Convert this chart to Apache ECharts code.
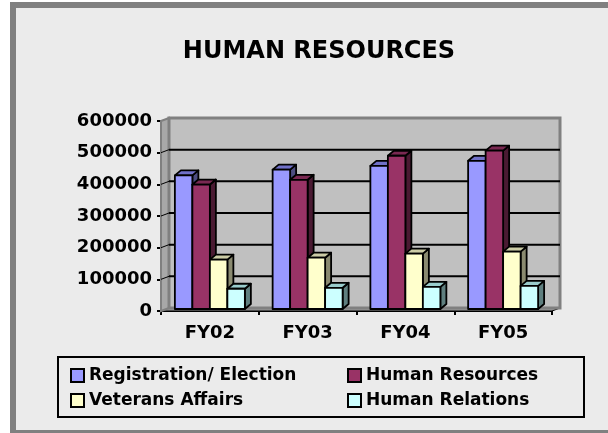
<!DOCTYPE html>
<html>
<head>
<meta charset="utf-8">
<script src="https://cdn.jsdelivr.net/npm/echarts@6/dist/echarts.min.js"></script>
<style>html,body{margin:0;padding:0;background:#fff}#c{width:608px;height:433px}</style>
</head>
<body>
<div id="c"></div>
<script>
var categories = ['FY02', 'FY03', 'FY04', 'FY05'];
var seriesNames = ['Registration/ Election', 'Human Resources', 'Veterans Affairs', 'Human Relations'];
var regElection = [422000, 440000, 452000, 468000];
var humanResources = [393000, 408000, 484000, 500000];
var veteransAffairs = [156000, 162000, 175000, 181000];
var humanRelations = [64000, 67000, 70000, 73000];
var yTicks = [0, 100000, 200000, 300000, 400000, 500000, 600000];

var allValues = [regElection, humanResources, veteransAffairs, humanRelations];
var frontColors = ['#9999ff', '#993366', '#ffffcc', '#ccffff'];
var sideColors = ['#4d4d80', '#4a1a32', '#8a8a70', '#5f7f7f'];
var topColors = ['#7070c8', '#7a2952', '#cccca6', '#99cccc'];
var FONT = 'DejaVu Sans';
var DX = 8, DY = -3;      // wall depth
var BDX = 6, BDY = -5;    // bar depth

var chart = echarts.init(document.getElementById('c'), null, {renderer: 'canvas'});

function wallRender(params, api) {
  var cs = params.coordSys;
  var x = cs.x, y = cs.y, w = cs.width, h = cs.height, yb = y + h;
  var children = [];
  children.push({type: 'polygon', shape: {points: [[x, yb], [x + w, yb], [x + w + DX, yb + DY], [x + DX, yb + DY]]},
    style: {fill: '#9a9a9a', stroke: '#000', lineWidth: 1}});
  children.push({type: 'polygon', shape: {points: [[x, y], [x + DX, y + DY], [x + DX, yb + DY], [x, yb]]},
    style: {fill: '#a8a8a8', stroke: '#808080', lineWidth: 2}});
  children.push({type: 'rect', shape: {x: x + DX, y: y + DY, width: w, height: h},
    style: {fill: '#c0c0c0', stroke: '#808080', lineWidth: 3}});
  for (var i = 1; i < yTicks.length - 1; i++) {
    var yy = api.coord([0, yTicks[i]])[1];
    children.push({type: 'line', shape: {x1: x + DX, y1: yy + DY, x2: x + w + DX, y2: yy + DY},
      style: {stroke: '#000', lineWidth: 2}});
    children.push({type: 'line', shape: {x1: x, y1: yy, x2: x + DX, y2: yy + DY},
      style: {stroke: '#000', lineWidth: 1}});
  }
  return {type: 'group', children: children};
}

function makeBarRender(s) {
  return function (params, api) {
    var cat = api.value(0), v = api.value(1);
    var band = api.size([1, 0])[0];
    var bw = band * 0.179;
    var center = api.coord([cat, 0])[0];
    var left = center - 2 * bw + s * bw;
    var bottom = api.coord([cat, 0])[1] - 2;
    var top = api.coord([cat, v])[1] - 2;
    var st = {stroke: '#000', lineWidth: 1.8, lineJoin: 'round'};
    return {type: 'group', children: [
      {type: 'polygon', shape: {points: [[left + bw, top], [left + bw + BDX, top + BDY], [left + bw + BDX, bottom + BDY], [left + bw, bottom]]},
        style: Object.assign({fill: sideColors[s]}, st)},
      {type: 'polygon', shape: {points: [[left, top], [left + BDX, top + BDY], [left + bw + BDX, top + BDY], [left + bw, top]]},
        style: Object.assign({fill: topColors[s]}, st)},
      {type: 'rect', shape: {x: left, y: top, width: bw, height: bottom - top},
        style: Object.assign({fill: frontColors[s]}, st)}
    ]};
  };
}

var series = [{
  type: 'custom', name: '_wall', renderItem: wallRender, data: [[0, 0]], z: 1, silent: true
}];
for (var s = 0; s < 4; s++) {
  series.push({
    type: 'custom', name: seriesNames[s], renderItem: makeBarRender(s),
    itemStyle: {color: frontColors[s]},
    data: allValues[s].map(function (v, i) { return [i, v]; }),
    encode: {x: 0, y: 1}, z: 2 + s
  });
}

function legendData(idx) {
  return idx.map(function (i) {
    return {name: seriesNames[i], icon: 'rect', itemStyle: {color: frontColors[i], borderColor: '#000', borderWidth: 2}};
  });
}
var legendText = {fontFamily: FONT, fontWeight: 'bold', fontSize: 17, color: '#000'};

chart.setOption({
  animation: false,
  backgroundColor: '#ffffff',
  graphic: [
    {type: 'rect', shape: {x: 10, y: 2, width: 600, height: 433}, style: {fill: '#808080'}, z: -10},
    {type: 'rect', shape: {x: 16, y: 8, width: 600, height: 422}, style: {fill: '#ebebeb'}, z: -9},
    {type: 'rect', shape: {x: 58, y: 357, width: 526, height: 60}, style: {fill: 'none', stroke: '#000', lineWidth: 2}, z: 10}
  ],
  title: {
    text: 'HUMAN RESOURCES', left: 314, top: 35, textAlign: 'center',
    textStyle: {fontFamily: FONT, fontWeight: 'bold', fontSize: 24, color: '#000'}
  },
  legend: [
    {data: legendData([0, 2]), orient: 'vertical', left: 65, top: 362, itemWidth: 13, itemHeight: 13, itemGap: 8,
      textStyle: legendText, selectedMode: false},
    {data: legendData([1, 3]), orient: 'vertical', left: 342, top: 362, itemWidth: 13, itemHeight: 13, itemGap: 8,
      textStyle: legendText, selectedMode: false}
  ],
  grid: {left: 161, top: 121, width: 391, height: 190, containLabel: false},
  xAxis: {
    type: 'category', data: categories,
    axisLine: {lineStyle: {color: '#000', width: 2}},
    axisTick: {show: true, length: 4, lineStyle: {color: '#000', width: 2}},
    axisLabel: {fontFamily: FONT, fontWeight: 'bold', fontSize: 18, color: '#000', margin: 13},
    splitLine: {show: false}
  },
  yAxis: {
    type: 'value', min: 0, max: 600000, interval: 100000,
    axisLine: {show: true, lineStyle: {color: '#000', width: 2}},
    axisTick: {show: true, length: 4, lineStyle: {color: '#000', width: 2}},
    axisLabel: {fontFamily: FONT, fontWeight: 'bold', fontSize: 18, color: '#000', margin: 9,
      formatter: function (v) { return String(v); }},
    splitLine: {show: false}
  },
  series: series
});
</script>
</body>
</html>
